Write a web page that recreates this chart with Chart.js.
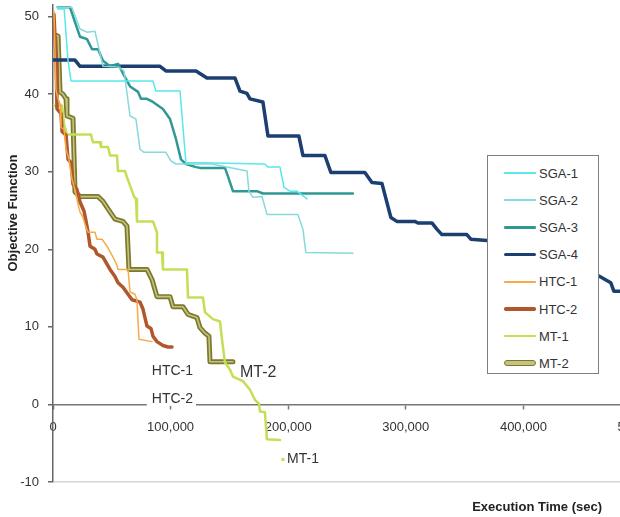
<!DOCTYPE html>
<html>
<head>
<meta charset="utf-8">
<script src="https://cdn.jsdelivr.net/npm/chart.js@4.4.1/dist/chart.umd.min.js"></script>
<style>
  html, body { margin: 0; padding: 0; background: #fff; overflow: hidden; }
  #wrap { position: relative; width: 680px; height: 517px; }
  #legend {
    position: absolute; left: 487px; top: 155px; width: 112px; height: 219px;
    background: #fff; border: 1.5px solid #7f7f7f; box-sizing: border-box;
    font: 13px "Liberation Sans", Arial, sans-serif; color: #333;
  }
  .item { position: absolute; left: 16px; height: 16px; display: flex; align-items: center; white-space: nowrap; }
  .swatch { width: 32px; margin-right: 3px; box-sizing: border-box; }
</style>
</head>
<body>
<div id="wrap">
  <canvas id="chart" width="680" height="517"></canvas>
  <div id="legend"></div>
</div>
<script>
// series names and look
const names  = ['SGA-1', 'SGA-2', 'SGA-3', 'SGA-4', 'HTC-1', 'HTC-2', 'MT-1', 'MT-2'];
const colors = ['#58e8ec', '#86dada', '#2f9894', '#1c3f72', '#f7ab48', '#b1572c', '#c2df55', '#7c792a'];
const widths = [1.5, 1.5, 2.5, 3.5, 1.5, 3.5, 2.5, 5];
const mt2Inner = '#c4c384';

// execution time (sec) / objective function
const sga1X = [4000, 9500, 12800, 15300, 85000, 87500, 108000, 113000, 180000, 182800, 193000, 196400, 201500, 207400, 216000];
const sga1Y = [51.0, 51.0, 44.3, 41.7, 41.7, 40.4, 40.4, 31.2, 31.0, 30.6, 30.6, 28.0, 27.5, 27.5, 26.5];

const sga2X = [4000, 16000, 23000, 29000, 35700, 42500, 55300, 60400, 65500, 70500, 74000, 77400, 96000, 100300, 104600, 135000, 165000, 166600, 170000, 177700, 182000, 208300, 212500, 215000, 255000];
const sga2Y = [51.2, 51.2, 48.4, 48.0, 48.1, 43.6, 43.5, 43.0, 37.2, 36.8, 32.9, 32.5, 32.5, 31.4, 31.0, 31.0, 30.1, 27.5, 26.7, 26.8, 24.5, 24.5, 22.6, 19.6, 19.5];

const sga3X = [4000, 14500, 18700, 23000, 28900, 33200, 38300, 42500, 48500, 55300, 57800, 61200, 65500, 72300, 74800, 79900, 85000, 93500, 99500, 104600, 108800, 113000, 121600, 125000, 146200, 148800, 153000, 173400, 178500, 255000];
const sga3Y = [51.2, 51.2, 49.3, 47.4, 47.1, 45.8, 45.8, 44.3, 43.6, 43.9, 43.2, 42.2, 41.0, 40.3, 39.4, 39.4, 39.0, 38.1, 36.8, 34.2, 31.6, 31.0, 30.6, 30.5, 30.5, 29.4, 27.5, 27.5, 27.2, 27.2];

const sga4X = [0, 18700, 23000, 91000, 96000, 121600, 130900, 154700, 159000, 164900, 167500, 178500, 182800, 209100, 212500, 231200, 236300, 265200, 271200, 279700, 287300, 292400, 307700, 310300, 322200, 326400, 330700, 351900, 355300, 380000, 405500, 435200, 465000, 474300, 476900, 490000];
const sga4Y = [44.4, 44.4, 43.6, 43.6, 43.0, 43.0, 42.1, 42.1, 40.4, 40.1, 39.4, 39.0, 34.6, 34.6, 32.1, 32.1, 29.9, 29.9, 28.6, 28.5, 24.1, 23.6, 23.6, 23.4, 23.4, 22.6, 21.9, 21.9, 21.3, 21.0, 19.4, 18.1, 16.5, 15.7, 14.6, 14.6];

const htc1X = [800, 2500, 4300, 6000, 6800, 9400, 11100, 13600, 16200, 18700, 21300, 23000, 25500, 28100, 29800, 35700, 37400, 41700, 45900, 48500, 52700, 54400, 55300, 63800, 65500, 69700, 71400, 73100, 84200];
const htc1Y = [50.7, 40.6, 39.4, 38.7, 35.7, 35.5, 32.9, 31.6, 29.0, 27.7, 25.8, 24.8, 24.1, 22.8, 22.2, 22.2, 21.3, 21.3, 20.4, 19.7, 18.5, 17.9, 17.4, 17.4, 14.5, 14.2, 13.5, 8.4, 8.1];

const htc2X = [800, 2600, 3400, 6800, 7700, 11100, 12800, 15300, 17000, 20400, 23000, 26400, 28100, 29800, 31500, 35700, 37400, 42500, 45900, 48500, 52700, 55300, 59500, 63800, 67200, 74000, 76500, 79900, 83300, 85000, 88400, 93500, 97800, 101200];
const htc2Y = [50.3, 44.5, 38.1, 37.5, 35.2, 34.7, 31.6, 31.2, 28.4, 27.7, 26.1, 24.9, 23.6, 22.2, 20.4, 20.0, 19.4, 19.0, 18.1, 17.4, 16.5, 15.7, 15.1, 14.2, 13.5, 13.2, 12.3, 10.1, 9.8, 8.8, 8.1, 7.6, 7.4, 7.4];

const mt1X = [0, 7700, 9400, 11900, 32300, 34000, 40000, 40800, 46800, 48500, 54400, 55300, 61200, 62900, 68900, 70600, 71400, 85000, 88400, 88400, 92700, 93500, 113900, 114800, 127500, 129200, 136000, 142000, 143700, 146200, 150500, 153000, 161500, 167500, 171700, 175100, 176000, 180200, 181900, 193000];
const mt1Y = [38.5, 38.5, 36.1, 34.8, 34.8, 33.8, 33.8, 33.2, 33.2, 32.1, 32.1, 30.1, 30.1, 29.3, 26.8, 26.5, 23.6, 23.6, 22.2, 19.6, 19.6, 17.4, 17.4, 13.8, 13.8, 11.9, 11.0, 10.7, 8.4, 5.4, 4.5, 3.6, 3.0, 1.9, 0.6, 0.1, -0.9, -1.0, -4.5, -4.6];

const mt2X = [0, 4300, 6000, 8500, 11100, 11900, 17000, 18700, 23000, 38300, 42500, 45900, 52700, 59500, 62900, 64600, 79900, 84200, 88400, 99500, 102000, 110500, 114800, 122400, 125000, 129200, 132600, 133500, 153000];
const mt2Y = [47.7, 47.5, 40.3, 40.0, 39.4, 37.2, 36.9, 27.4, 26.8, 26.8, 26.2, 25.4, 23.9, 23.6, 23.0, 17.4, 17.4, 16.1, 13.9, 13.9, 12.6, 12.6, 11.6, 11.2, 9.9, 9.2, 8.8, 5.5, 5.5];

const xTicks = [0, 100000, 200000, 300000, 400000, 500000];
const yTicks = [-10, 0, 10, 20, 30, 40, 50];

// data labels placed beside the curves (in data units)
const notes = [
  { text: 'HTC-1', x: 84000, y: 4.3, size: 14 },
  { text: 'HTC-2', x: 84000, y: 0.7, size: 14, clear: true },
  { text: 'MT-2', x: 159000, y: 4.1, size: 16 },
  { text: 'MT-1', x: 199000, y: -7.1, size: 14, dot: 195500 }
];

const FONT = '"Liberation Sans", Arial, sans-serif';
const zip = (xs, ys) => xs.map((x, i) => ({ x: x, y: ys[i] }));
const allX = [sga1X, sga2X, sga3X, sga4X, htc1X, htc2X, mt1X, mt2X];
const allY = [sga1Y, sga2Y, sga3Y, sga4Y, htc1Y, htc2Y, mt1Y, mt2Y];

const datasets = [];
names.forEach((name, i) => {
  if (name === 'MT-2') {
    // double line: light core over a dark olive band
    datasets.push({ label: 'MT-2 core', data: zip(allX[i], allY[i]), borderColor: mt2Inner, borderWidth: 1.6 });
  }
  datasets.push({ label: name, data: zip(allX[i], allY[i]), borderColor: colors[i], borderWidth: widths[i] });
});

const notesPlugin = {
  id: 'notes',
  afterDraw(chart) {
    const c = chart.ctx;
    const xs = chart.scales.x, ys = chart.scales.y;
    c.save();
    notes.forEach(n => {
      const px = xs.getPixelForValue(n.x), py = ys.getPixelForValue(n.y);
      c.font = n.size + 'px ' + FONT;
      c.textBaseline = 'middle';
      c.textAlign = 'left';
      const w = c.measureText(n.text).width;
      if (n.clear) {
        c.fillStyle = '#fff';
        c.fillRect(px - 5, py - 7, w + 8, 14);
      }
      if (n.dot) {
        c.fillStyle = colors[6];
        c.fillRect(xs.getPixelForValue(n.dot) - 1.5, py - 1.5, 3, 3);
      }
      c.fillStyle = '#333';
      c.fillText(n.text, px, py);
    });
    // axis titles
    c.fillStyle = '#222';
    c.font = 'bold 13px ' + FONT;
    c.textAlign = 'right';
    c.fillText('Execution Time (sec)', 602, 507);
    c.translate(13, 213);
    c.rotate(-Math.PI / 2);
    c.textAlign = 'center';
    c.fillText('Objective Function', 0, 0);
    c.restore();
  }
};

new Chart(document.getElementById('chart').getContext('2d'), {
  type: 'line',
  data: { datasets: datasets },
  options: {
    responsive: false,
    animation: false,
    layout: { padding: { left: 0, right: 39, top: 5, bottom: 35 } },
    elements: {
      point: { radius: 0 },
      line: { tension: 0, borderCapStyle: 'round', borderJoinStyle: 'round' }
    },
    plugins: { legend: { display: false }, tooltip: { enabled: false } },
    scales: {
      x: {
        type: 'linear',
        position: { y: 0 },
        min: xTicks[0],
        max: xTicks[xTicks.length - 1],
        afterBuildTicks: s => { s.ticks = xTicks.map(v => ({ value: v })); },
        ticks: {
          padding: 11, color: '#333', maxRotation: 0, autoSkip: false,
          font: { family: FONT, size: 13 },
          callback: v => v.toLocaleString('en-US')
        },
        grid: { drawOnChartArea: false, tickLength: 4, tickColor: '#777', tickWidth: 1.5 },
        border: { color: '#777', width: 1.5 },
        afterFit: s => { s.height = 0; s.paddingLeft = 0; s.paddingRight = 0; }
      },
      y: {
        min: -10,
        max: 51.5,
        afterBuildTicks: s => { s.ticks = yTicks.map(v => ({ value: v })); },
        ticks: { padding: 9, color: '#333', font: { family: FONT, size: 13 } },
        grid: {
          color: c => (c.tick && c.tick.value === -10) ? '#d6d6d6' : 'rgba(0,0,0,0)',
          lineWidth: 1.5, tickLength: 5, tickColor: '#666', tickWidth: 1.5
        },
        border: { color: '#666', width: 1.5 },
        afterFit: s => { s.width = 53; s.paddingTop = 0; s.paddingBottom = 0; }
      }
    }
  },
  plugins: [notesPlugin]
});

// legend box drawn in HTML over the plot
const legend = document.getElementById('legend');
names.forEach((name, i) => {
  const item = document.createElement('div');
  item.className = 'item';
  item.style.top = (9 + i * 27.2) + 'px';
  const sw = document.createElement('div');
  sw.className = 'swatch';
  if (name === 'MT-2') {
    sw.style.height = '6px';
    sw.style.background = mt2Inner;
    sw.style.border = '1.8px solid ' + colors[i];
    sw.style.borderRadius = '3px';
  } else {
    sw.style.height = widths[i] + 'px';
    sw.style.background = colors[i];
    sw.style.borderRadius = (widths[i] / 2) + 'px';
  }
  const label = document.createElement('span');
  label.textContent = name;
  item.appendChild(sw);
  item.appendChild(label);
  legend.appendChild(item);
});
</script>
</body>
</html>
